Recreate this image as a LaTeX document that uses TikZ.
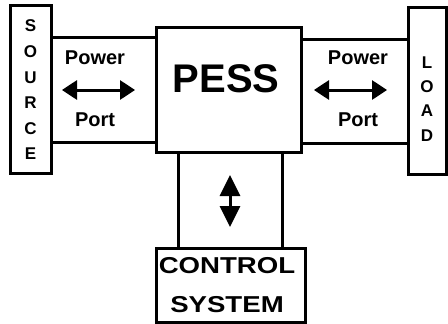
\documentclass[tikz,border=0pt]{standalone}
\usepackage{fontspec}
\setmainfont{Liberation Sans}
\usetikzlibrary{arrows.meta}
\begin{document}
\begin{tikzpicture}[x=1pt,y=-1pt,
  box/.style={draw,line width=3pt,inner sep=0pt,outer sep=0pt},
  band/.style={line width=3pt},
  lbl/.style={font=\fontsize{20}{20}\selectfont\bfseries,inner sep=0pt},
  dblarrow/.style={line width=3pt,{Triangle[length=15pt,width=19pt]}-{Triangle[length=15pt,width=19pt]}}]
\useasboundingbox (0,0) rectangle (448,324);
\node[box,minimum width=41pt,minimum height=168pt] (source) at (30.5,89.5) {};
\node[box,minimum width=145pt,minimum height=125pt] (pess) at (229,90) {};
\node[box,minimum width=38pt,minimum height=167pt] (load) at (427,91) {};
\node[box,minimum width=149pt,minimum height=74pt] (ctrl) at (230.5,285) {};
% letters
\node[align=center,inner sep=0pt,font=\fontsize{17}{25.6}\selectfont\bfseries] (srctext) at (30.5,90) {S\\O\\U\\R\\C\\E};
\node[align=center,inner sep=0pt,font=\fontsize{17}{24.3}\selectfont\bfseries] (loadtext) at (427,99) {L\\O\\A\\D};
\node[inner sep=0pt,font=\fontsize{40}{40}\selectfont\bfseries] (pesstext) at (226,79) {PESS};
\node[inner sep=0pt,font=\fontsize{23}{23}\selectfont\bfseries] (ctrltext) at (227,266) {\scalebox{1.2}[1]{CONTROL}};
\node[inner sep=0pt,font=\fontsize{23}{23}\selectfont\bfseries] (systext) at (227,305) {\scalebox{1.2}[1]{SYSTEM}};
% bands
\coordinate (lt) at (0,37);
\coordinate (lb) at (0,142);
\coordinate (rt) at (0,39);
\coordinate (rb) at (0,143);
\coordinate (vl) at (178,0);
\coordinate (vr) at (282,0);
\draw[band] (source.east |- lt) -- (pess.west |- lt);
\draw[band] (source.east |- lb) -- (pess.west |- lb);
\draw[band] (pess.east |- rt) -- (load.west |- rt);
\draw[band] (pess.east |- rb) -- (load.west |- rb);
\draw[band] (pess.south -| vl) -- (ctrl.north -| vl);
\draw[band] (pess.south -| vr) -- (ctrl.north -| vr);
% port labels
\node[lbl] (pw1) at (95,58) {Power};
\node[lbl] (pt1) at (95,120) {Port};
\node[lbl] (pw2) at (358,58) {Power};
\node[lbl] (pt2) at (358,120) {Port};
\coordinate (a1l) at (62,90);
\coordinate (a1r) at (135,90);
\coordinate (a2l) at (314,90);
\coordinate (a2r) at (387,90);
\coordinate (a3t) at (230,175);
\coordinate (a3b) at (230,227);
\draw[dblarrow] (a1l) -- (a1r);
\draw[dblarrow] (a2l) -- (a2r);
\draw[line width=3pt,{Triangle[length=21pt,width=20pt]}-{Triangle[length=21pt,width=20pt]}] (a3t) -- (a3b);
\end{tikzpicture}
\end{document}
